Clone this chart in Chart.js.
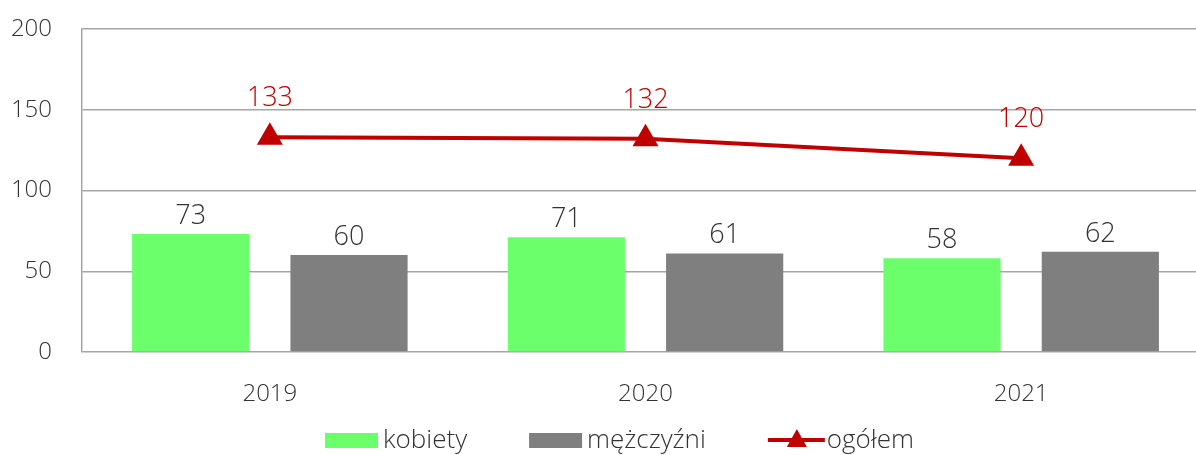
<!DOCTYPE html>
<html lang="pl">
<head>
    <meta charset="UTF-8">
    <title>kobiety / mężczyźni / ogółem</title>
    <script src="https://cdn.jsdelivr.net/npm/chart.js"></script>
    <style>
        html, body { margin: 0; padding: 0; background: #fff; overflow: hidden; }
        /* plot runs past the right edge of the window, as in the original */
        #chart { display: block; width: 1224px; height: 455px; }
    </style>
</head>
<body>
    <canvas id="chart" width="1224" height="455"></canvas>

    <script>
        // data
        const years = ['2019', '2020', '2021'];
        const kobiety = [73, 71, 58];
        const mezczyzni = [60, 61, 62];
        const ogolem = [133, 132, 120];
        const yTicks = [0, 50, 100, 150, 200];

        const FONT = "'Open Sans', 'Noto Sans', sans-serif";
        const GREEN = '#6cff6c';
        const GREY = '#7f7f7f';
        const RED = '#c00000';
        const GRID = '#a6a6a6';
        const TEXT = '#333333';

        // value labels above bars and points
        const valueLabels = {
            id: 'valueLabels',
            afterDatasetsDraw(chart) {
                const ctx = chart.ctx;
                ctx.save();
                ctx.textAlign = 'center';
                ctx.textBaseline = 'alphabetic';
                ctx.font = '300 27px ' + FONT;
                chart.data.datasets.forEach((ds, i) => {
                    const isLine = ds.type === 'line';
                    ctx.fillStyle = isLine ? RED : TEXT;
                    chart.getDatasetMeta(i).data.forEach((el, j) => {
                        ctx.fillText(ds.data[j], el.x, el.y - (isLine ? 31 : 10));
                    });
                });
                ctx.restore();
            }
        };

        // legend drawn by hand so the swatches and gaps match
        const bottomLegend = {
            id: 'bottomLegend',
            afterDraw(chart) {
                const ctx = chart.ctx;
                ctx.save();
                ctx.font = '300 26px ' + FONT;
                ctx.textBaseline = 'middle';
                ctx.textAlign = 'left';
                const cy = 440;
                let x = 325;
                chart.data.datasets.forEach(ds => {
                    if (ds.type === 'line') {
                        ctx.strokeStyle = ds.borderColor; ctx.lineWidth = 4;
                        ctx.beginPath(); ctx.moveTo(x, cy); ctx.lineTo(x + 57, cy); ctx.stroke();
                        ctx.fillStyle = ds.borderColor;
                        ctx.beginPath();
                        ctx.moveTo(x + 29, cy - 11); ctx.lineTo(x + 39, cy + 7); ctx.lineTo(x + 19, cy + 7);
                        ctx.closePath(); ctx.fill();
                        x += 59;
                    } else {
                        ctx.fillStyle = ds.backgroundColor;
                        ctx.fillRect(x, cy - 7, 53, 15);
                        x += 58;
                    }
                    ctx.fillStyle = TEXT;
                    ctx.fillText(ds.label, x, cy + 1);
                    x += ctx.measureText(ds.label).width + 62;
                });
                ctx.restore();
            }
        };

        new Chart(document.getElementById('chart'), {
            type: 'bar',
            data: {
                labels: years,
                datasets: [
                    { label: 'kobiety', data: kobiety, backgroundColor: GREEN,
                      categoryPercentage: 0.843, barPercentage: 0.74 },
                    { label: 'mężczyźni', data: mezczyzni, backgroundColor: GREY,
                      categoryPercentage: 0.843, barPercentage: 0.74 },
                    { label: 'ogółem', type: 'line', data: ogolem, borderColor: RED, backgroundColor: RED,
                      borderWidth: 4, pointStyle: 'triangle', pointRadius: 11, pointHoverRadius: 11,
                      pointBackgroundColor: RED, pointBorderColor: RED, tension: 0 }
                ]
            },
            options: {
                responsive: false,
                devicePixelRatio: 1,
                animation: false,
                layout: { padding: { top: 29, left: 0, right: 0, bottom: 0 } },
                scales: {
                    x: {
                        afterFit: (s) => { s.height = 103; s.paddingLeft = 0; s.paddingRight = 0; },
                        grid: { display: false },
                        border: { display: false },
                        ticks: { color: TEXT, font: { family: FONT, size: 24, weight: '300' }, padding: 20 }
                    },
                    y: {
                        min: 0, max: 200,
                        afterBuildTicks: (s) => { s.ticks = yTicks.map(v => ({ value: v })); },
                        afterFit: (s) => { s.width = 82; s.paddingTop = 0; s.paddingBottom = 0; },
                        grid: { color: GRID, lineWidth: 1.5, drawTicks: false },
                        border: { display: true, color: GRID, width: 1.5 },
                        ticks: { color: TEXT, font: { family: FONT, size: 24, weight: '300' }, padding: 30 }
                    }
                },
                plugins: {
                    tooltip: { enabled: false },
                    legend: { display: false }
                }
            },
            plugins: [valueLabels, bottomLegend]
        });
    </script>
</body>
</html>
